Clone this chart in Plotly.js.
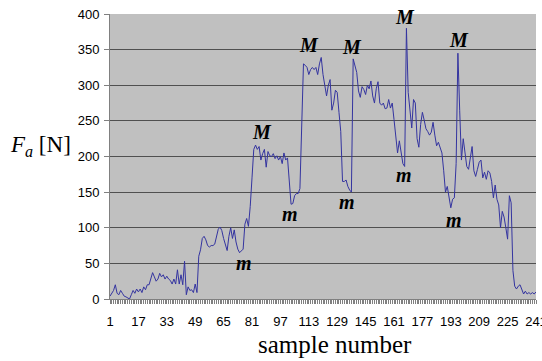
<!DOCTYPE html>
<html><head><meta charset="utf-8">
<script src="https://cdn.plot.ly/plotly-3.0.1.min.js"></script>
<style>html,body{margin:0;padding:0;background:#fff}#chart{width:542px;height:361px}</style>
</head><body><div id="chart"></div>
<script>
// Force Fa [N] per sample number (samples 1..241)
const force = [
  4,8,12,20,8,6,12,8,4,3,
  2,0,6,12,8,14,10,14,9,17,
  13,20,20,28,37,31,25,28,36,31,
  34,28,32,28,26,21,28,21,41,21,
  34,20,53,6,17,12,13,9,21,9,
  60,69,85,88,83,75,73,75,75,77,
  88,98,101,96,85,76,68,88,100,85,
  97,80,70,65,67,70,105,113,102,130,
  170,210,216,210,214,195,204,210,185,207,
  201,200,204,197,201,195,200,190,205,195,
  198,160,133,134,145,148,148,155,230,330,
  328,325,315,322,325,322,325,315,330,339,
  315,300,285,300,308,265,275,293,290,262,
  235,165,165,167,158,153,150,337,325,318,
  292,283,298,294,287,300,295,306,285,275,
  295,305,275,272,275,267,268,280,268,275,
  252,224,205,222,208,190,186,380,290,260,
  240,280,275,225,213,245,262,251,239,235,
  230,234,248,230,215,220,213,205,180,150,
  158,144,128,140,142,190,345,265,195,225,
  205,186,182,200,214,180,172,182,192,195,
  170,178,168,180,177,165,142,160,140,132,
  100,123,115,100,84,145,135,40,18,14,
  18,20,14,7,11,7,9,7,9,7,10
];
const tickValues = [1,17,33,49,65,81,97,113,129,145,161,177,193,209,225,241];
const tickLabels = ['1','17','33','49','65','81','97','113','129','145','161','177','193','209','225','241'];
const forceTicks = [0,50,100,150,200,250,300,350,400];
const forceGrid = [50,100,150,200,250,300,350];

// Maxima (M) and minima (m) labels
const maxLabel = 'M';
const maxSamples = [86.8,113.1,137.5,167,197.8];
const maxForces = [234,356,354,396,363];
const minLabel = 'm';
const minSamples = [76.7,102.6,134.6,166.6,195];
const minForces = [50,120,136,174,111];

const markFont = {family:'"Liberation Serif", "Times New Roman", serif', size:20, color:'#000'};
const annotations = [];
maxSamples.forEach((s,i)=>annotations.push({x:s,y:maxForces[i],xref:'x',yref:'y',text:'<b><i>'+maxLabel+'</i></b>',showarrow:false,font:markFont,xanchor:'center',yanchor:'middle'}));
minSamples.forEach((s,i)=>annotations.push({x:s,y:minForces[i],xref:'x',yref:'y',text:'<b><i>'+minLabel+'</i></b>',showarrow:false,font:markFont,xanchor:'center',yanchor:'middle'}));
annotations.push({xref:'paper',yref:'paper',x:-0.162,y:0.537,xanchor:'center',yanchor:'middle',showarrow:false,
  text:'<i>F</i><sub><i>a</i></sub> [N]',font:{family:'"Liberation Serif", "Times New Roman", serif',size:23,color:'#000'}});
annotations.push({xref:'paper',yref:'paper',x:0.529,y:-0.158,xanchor:'center',yanchor:'middle',showarrow:false,
  text:'sample number',font:{family:'"Liberation Serif", "Times New Roman", serif',size:25,color:'#000'}});

const trace = {y:force, x0:1, dx:1, type:'scatter', mode:'lines', line:{color:'#3434A0', width:1}, hoverinfo:'skip'};
const tickFont = {family:'"Liberation Sans", Arial, sans-serif', size:13, color:'#000'};
const layout = {
  width:542, height:361,
  margin:{l:110, r:6, t:14, b:62, pad:0},
  paper_bgcolor:'#ffffff', plot_bgcolor:'#C0C0C0',
  showlegend:false,
  xaxis:{range:[1,241], tickmode:'array', tickvals:tickValues, ticktext:tickLabels,
    ticks:'outside', ticklen:4, tickcolor:'#808080', tickwidth:1,
    minor:{tickmode:'linear', tick0:1, dtick:1, ticks:'outside', ticklen:4, tickcolor:'#808080', showgrid:false},
    showgrid:false, zeroline:false, showline:true, linecolor:'#808080', linewidth:1,
    tickfont:tickFont, ticklabelstandoff:6, ticklabeloverflow:'allow', fixedrange:true},
  yaxis:{range:[0,400], tickmode:'array', tickvals:forceTicks,
    ticks:'outside', ticklen:5, tickcolor:'#808080',
    showgrid:false, zeroline:false,
    minor:{tickmode:'array', tickvals:forceGrid, ticks:'', showgrid:true, gridcolor:'#505050', gridwidth:1},
    showline:true, linecolor:'#808080', linewidth:1,
    tickfont:tickFont, ticklabelstandoff:2, fixedrange:true},
  annotations:annotations
};
Plotly.newPlot('chart',[trace],layout,{staticPlot:true, displayModeBar:false});
</script></body></html>
